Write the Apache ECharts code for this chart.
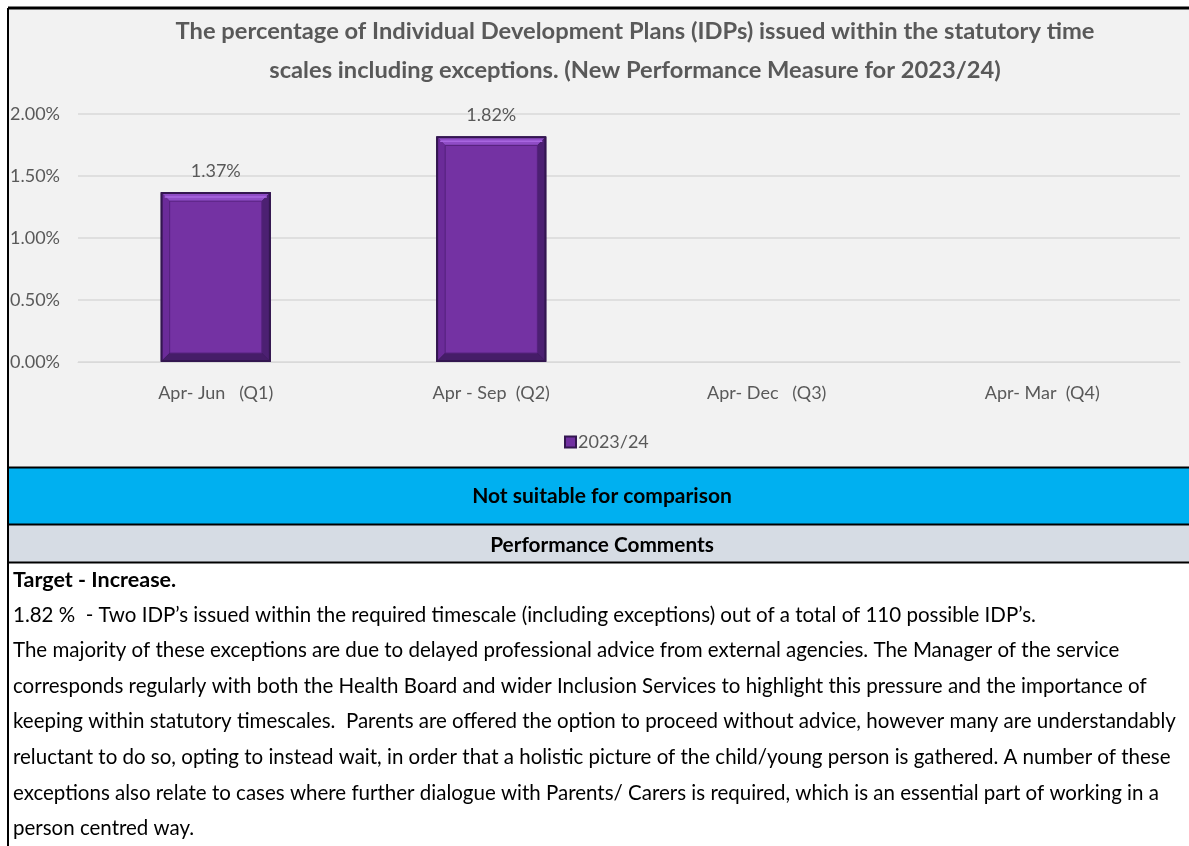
<!DOCTYPE html>
<html>
<head>
<meta charset="utf-8">
<script src="https://cdn.jsdelivr.net/npm/echarts@6/dist/echarts.min.js"></script>
<style>
  html, body { margin: 0; padding: 0; background: #ffffff; }
  #chart { width: 1189px; height: 846px; }
</style>
</head>
<body>
<div id="chart"></div>
<script>
var categories = ['Apr- Jun   (Q1)', 'Apr - Sep  (Q2)', 'Apr- Dec   (Q3)', 'Apr- Mar  (Q4)'];
var values2324 = [1.37, 1.82, null, null];
var yTicks = { min: 0, max: 2, interval: 0.5 };

var titleLines = [
	'The percentage of Individual Development Plans (IDPs) issued within the statutory time',
	'scales including exceptions. (New Performance Measure for 2023/24)'
];
var bandText = 'Not suitable for comparison';
var headText = 'Performance Comments';
var commentLines = [
	'1.82 %  - Two IDP\u2019s issued within the required timescale (including exceptions) out of a total of 110 possible IDP\u2019s.',
	'The majority of these exceptions are due to delayed professional advice from external agencies. The Manager of the service',
	'corresponds regularly with both the Health Board and wider Inclusion Services to highlight this pressure and the importance of',
	'keeping within statutory timescales.  Parents are offered the option to proceed without advice, however many are understandably',
	'reluctant to do so, opting to instead wait, in order that a holistic picture of the child/young person is gathered. A number of these',
	'exceptions also relate to cases where further dialogue with Parents/ Carers is required, which is an essential part of working in a',
	'person centred way.'
];

var FONT = 'Lato, "Open Sans", sans-serif';
var myChart = echarts.init(document.querySelector('#chart'));

// bevelled bar face, drawn over the plain bar
function renderBevel(params, api) {
	var v = api.value(1);
	if (v == null || isNaN(v)) return;
	var top = api.coord([api.value(0), v]);
	var base = api.coord([api.value(0), 0]);
	var w = api.size([1, 0])[0] * 0.4;
	var x0 = top[0] - w / 2, x1 = top[0] + w / 2, y0 = top[1], y1 = base[1];
	var b = 9;
	return {
		type: 'group',
		children: [
			{ type: 'rect', shape: { x: x0, y: y0, width: w, height: y1 - y0 }, style: { fill: '#331650' } },
			{ type: 'polygon', shape: { points: [[x0 + 2, y0 + 2], [x1 - 2, y0 + 2], [x1 - b, y0 + b], [x0 + b, y0 + b]] }, style: { fill: '#8f4cc6' } },
			{ type: 'polygon', shape: { points: [[x0 + 2, y0 + 2], [x0 + b, y0 + b], [x0 + b, y1 - b], [x0 + 2, y1 - 2]] }, style: { fill: '#6b2b99' } },
			{ type: 'polygon', shape: { points: [[x1 - 2, y0 + 2], [x1 - b, y0 + b], [x1 - b, y1 - b], [x1 - 2, y1 - 2]] }, style: { fill: '#4c2072' } },
			{ type: 'polygon', shape: { points: [[x0 + 2, y1 - 2], [x0 + b, y1 - b], [x1 - b, y1 - b], [x1 - 2, y1 - 2]] }, style: { fill: '#451d68' } },
			{ type: 'line', shape: { x1: x0 + 4, y1: y0 + 5, x2: x1 - 4, y2: y0 + 5 }, style: { stroke: '#a866e0', lineWidth: 1.5 } },
			{ type: 'rect', shape: { x: x0 + b, y: y0 + b, width: w - 2 * b, height: y1 - y0 - 2 * b }, style: { fill: '#7432a3', stroke: '#56227e', lineWidth: 1 } }
		]
	};
}

var graphics = [
	// chart panel and bands
	{ type: 'rect', shape: { x: 8, y: 8, width: 1189, height: 459 }, style: { fill: '#f2f2f2' }, z: -10 },
	{ type: 'rect', shape: { x: 8, y: 468, width: 1189, height: 56 }, style: { fill: '#00b0f0' }, z: -10 },
	{ type: 'rect', shape: { x: 8, y: 525, width: 1189, height: 37 }, style: { fill: '#d6dce4' }, z: -10 },
	{ type: 'line', shape: { x1: 8, y1: 8, x2: 1189, y2: 8 }, style: { stroke: '#000', lineWidth: 3 } },
	{ type: 'line', shape: { x1: 8, y1: 8, x2: 8, y2: 846 }, style: { stroke: '#000', lineWidth: 2 } },
	{ type: 'line', shape: { x1: 8, y1: 467.5, x2: 1189, y2: 467.5 }, style: { stroke: '#000', lineWidth: 2 } },
	{ type: 'line', shape: { x1: 8, y1: 524.5, x2: 1189, y2: 524.5 }, style: { stroke: '#000', lineWidth: 2 } },
	{ type: 'line', shape: { x1: 8, y1: 562.5, x2: 1189, y2: 562.5 }, style: { stroke: '#000', lineWidth: 2 } },
	{ type: 'text', x: 602, y: 496, style: { text: bandText, font: 'bold 21px ' + FONT, fill: '#000', align: 'center', verticalAlign: 'middle' } },
	{ type: 'text', x: 602, y: 545, style: { text: headText, font: 'bold 20.8px ' + FONT, fill: '#000', align: 'center', verticalAlign: 'middle' } },
	{ type: 'text', x: 13, y: 580, style: { text: 'Target - Increase.', font: 'bold 21.5px ' + FONT, fill: '#000', align: 'left', verticalAlign: 'middle' } }
];
commentLines.forEach(function (t, i) {
	graphics.push({ type: 'text', x: 13, y: 615 + i * 35.6, style: { text: t, font: '20.5px ' + FONT, fill: '#000', align: 'left', verticalAlign: 'middle' } });
});

var option = {
	animation: false,
	textStyle: { fontFamily: FONT },
	title: {
		text: titleLines.join('\n'),
		left: 630,
		top: 7,
		textAlign: 'center',
		textStyle: { fontSize: 23.7, fontWeight: 'bold', color: '#595959', lineHeight: 39, fontFamily: FONT }
	},
	legend: {
		data: ['2023/24'],
		left: 559,
		top: 428,
		itemWidth: 11,
		itemHeight: 11,
		itemGap: 4,
		icon: 'rect',
		textStyle: { fontSize: 18, color: '#595959', padding: [0, 0, 0, -3] }
	},
	grid: { left: 78, right: 9, top: 114, bottom: 484 },
	xAxis: {
		type: 'category',
		data: categories,
		axisLine: { lineStyle: { color: '#d9d9d9' } },
		axisTick: { show: false },
		axisLabel: { fontSize: 18, color: '#595959', margin: 22 }
	},
	yAxis: {
		type: 'value',
		min: yTicks.min,
		max: yTicks.max,
		interval: yTicks.interval,
		axisLine: { show: false },
		axisTick: { show: false },
		splitLine: { lineStyle: { color: '#d9d9d9', width: 1.5 } },
		axisLabel: {
			fontSize: 18, color: '#595959', align: 'left', margin: 68,
			formatter: function (v) { return v.toFixed(2) + '%'; }
		}
	},
	series: [{
		name: '2023/24',
		type: 'bar',
		data: values2324,
		barWidth: '40%',
		itemStyle: { color: '#7030a0', borderColor: '#331650', borderWidth: 1 },
		label: {
			show: true, position: 'top', distance: 12, fontSize: 18, color: '#595959',
			formatter: function (p) { return p.value.toFixed(2) + '%'; }
		}
	}, {
		name: 'bevel',
		type: 'custom',
		renderItem: renderBevel,
		data: values2324.map(function (v, i) { return [i, v]; }),
		z: 3,
		silent: true
	}],
	graphic: graphics
};

myChart.setOption(option);
</script>
</body>
</html>
